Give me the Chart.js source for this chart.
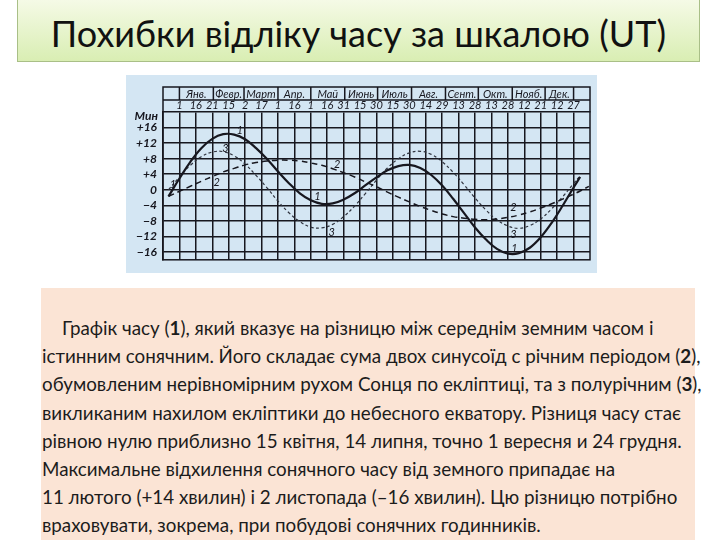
<!DOCTYPE html>
<html>
<head>
<meta charset="utf-8">
<script src="https://cdn.jsdelivr.net/npm/chart.js@4.4.0/dist/chart.umd.min.js"></script>
<style>
html, body { margin: 0; padding: 0; width: 720px; height: 540px; overflow: hidden; background: #fff; }
#title {
    position: absolute; left: 17px; top: -1px; width: 683px; height: 63px; box-sizing: border-box;
    border: 1px solid #a9bf87; background: linear-gradient(#f5fae6, #d9eeb3);
    font-family: Lato, "Open Sans", sans-serif; font-size: 36px;
    color: #111; text-align: center; line-height: 36px; padding-top: 15px;
}
#plot { position: absolute; left: 126px; top: 75px; width: 471px; height: 198px; background: #d4e6f3; }
#note {
    position: absolute; left: 41px; top: 288px; width: 654px; height: 252px; box-sizing: border-box;
    background: #fbe4d5; padding-top: 26px;
    font-family: Lato, "Open Sans", sans-serif; font-size: 18.8px;
    line-height: 28.2px; color: #1c1c1c;
}
.ln { white-space: nowrap; padding-left: 1px; }
.ln.first { padding-left: 21px; }
</style>
</head>
<body>
<div id="title">Похибки відліку часу за шкалою (UT)</div>
<canvas id="plot" width="471" height="198"></canvas>
<div id="note">
    <div class="ln first">Графік часу (<b>1</b>), який вказує на різницю між середнім земним часом і</div>
    <div class="ln">істинним сонячним. Його складає сума двох синусоїд с річним періодом (<b>2</b>),</div>
    <div class="ln">обумовленим нерівномірним рухом Сонця по екліптиці, та з полурічним (<b>3</b>),</div>
    <div class="ln">викликаним нахилом екліптики до небесного екватору. Різниця часу стає</div>
    <div class="ln">рівною нулю приблизно 15 квітня, 14 липня, точно 1 вересня и 24 грудня.</div>
    <div class="ln">Максимальне відхилення сонячного часу від земного припадає на</div>
    <div class="ln">11 лютого (+14 хвилин) і 2 листопада (–16 хвилин). Цю різницю потрібно</div>
    <div class="ln">враховувати, зокрема, при побудові сонячних годинників.</div>
</div>
<script>
// --------------- data -----------------------
const sampleDays = [-10, 0, 10, 20, 30, 40, 50, 60, 70, 80, 90, 100, 110, 120, 130, 140, 150, 160, 170, 180,
    190, 200, 210, 220, 230, 240, 250, 260, 270, 280, 290, 300, 310, 320, 330, 340, 350, 360, 366];
// curve 1: equation of time, minutes
const totalEq = [-1.7, 2.9, 7.2, 10.7, 13.1, 14.3, 14.2, 13.0, 10.7, 7.9, 4.7, 1.7, -0.9, -2.7, -3.6, -3.5,
    -2.5, -0.9, 1.2, 3.2, 5.0, 6.1, 6.4, 5.6, 3.8, 1.1, -2.3, -6.0, -9.7, -12.8, -15.2, -16.4, -16.3, -14.9,
    -12.2, -8.5, -4.1, 0.6, 3.3];
// curve 2: yearly term (runs on to the right edge)
const annualDays = [...sampleDays, 374];
const annualTerm = [-1.7, -0.4, 0.9, 2.2, 3.4, 4.6, 5.5, 6.4, 7.0, 7.4, 7.6, 7.6, 7.4, 6.9, 6.3, 5.4, 4.4, 3.3,
    2.0, 0.8, -0.6, -1.9, -3.1, -4.3, -5.3, -6.2, -6.9, -7.3, -7.6, -7.7, -7.5, -7.1, -6.5, -5.7, -4.7, -3.6,
    -2.4, -1.1, -0.3, 0.9];
// curve 3: half-year term
const semiAnnualTerm = [0.0, 3.3, 6.3, 8.5, 9.7, 9.8, 8.7, 6.6, 3.7, 0.5, -2.9, -5.9, -8.2, -9.6, -9.8, -8.9,
    -6.9, -4.2, -0.9, 2.5, 5.6, 8.0, 9.5, 9.9, 9.1, 7.2, 4.5, 1.3, -2.1, -5.2, -7.7, -9.3, -9.9, -9.2, -7.5,
    -4.9, -1.8, 1.6, 3.6];

const dayTicks = [0, 15, 30, 45, 60, 75, 90, 105, 120, 135, 150, 165, 180, 195, 210, 225, 240, 255, 270, 285,
    300, 315, 330, 345, 360];
const dayLabels = ['1', '16', '21', '15', '2', '17', '1', '16', '1', '16', '31', '15', '30', '15', '30', '14',
    '29', '13', '28', '13', '28', '12', '21', '12', '27'];
const monthNames = ['Янв.', 'Февр.', 'Март', 'Апр.', 'Май', 'Июнь', 'Июль', 'Авг.', 'Сент.', 'Окт.', 'Нояб.', 'Дек.'];
const monthEdges = [0, 31, 59, 90, 120, 151, 181, 212, 243, 273, 304, 334, 360];
const yTicks = [-16, -12, -8, -4, 0, 4, 8, 12, 16];
const yLabels = ['−16', '−12', '−8', '−4', '0', '+4', '+8', '+12', '+16'];
const curveLabels = [['1', 55, 15.3], ['3', 42, 10.6], ['2', 34, 2.0], ['2', 144, 6.4], ['1', 126, -1.6],
    ['3', 139, -10.9], ['2', 305, -4.6], ['3', 305, -11.4], ['1', 306, -15.0], ['1', -6, 1.3]];

const ink = '#17171f';
const handFont = 'Lato, "Open Sans", sans-serif';

const pts = (xs, ys) => xs.map((d, i) => ({x: d, y: ys[i]}));

// --------------- header, frame and curve numbers -----------------------
const frame = {
    id: 'frame',
    afterDraw(chart) {
        const {ctx, chartArea: a, scales: {x, y}} = chart;
        const top = a.top - 25, mid = a.top - 12;
        ctx.save();
        ctx.strokeStyle = ink;
        ctx.lineWidth = 1.5;
        ctx.strokeRect(a.left, top, a.right - a.left, a.bottom - top);
        ctx.beginPath();
        ctx.moveTo(a.left, mid); ctx.lineTo(a.right, mid);
        monthEdges.forEach(d => {
            const px = x.getPixelForValue(d);
            ctx.moveTo(px, top); ctx.lineTo(px, mid);
        });
        ctx.stroke();

        ctx.fillStyle = ink;
        ctx.font = 'italic 11px ' + handFont;
        ctx.textAlign = 'center';
        ctx.textBaseline = 'middle';
        monthNames.forEach((n, i) => {
            const cx = (x.getPixelForValue(monthEdges[i]) + x.getPixelForValue(monthEdges[i + 1])) / 2;
            ctx.fillText(n, cx, (top + mid) / 2 + 1);
        });

        ctx.font = 'italic bold 12px ' + handFont;
        ctx.textAlign = 'right';
        ctx.fillText('Мин', a.left - 5, y.getPixelForValue(19.0));

        ctx.font = 'italic 11px ' + handFont;
        ctx.textAlign = 'center';
        curveLabels.forEach(([t, d, v]) => ctx.fillText(t, x.getPixelForValue(d), y.getPixelForValue(v)));
        ctx.restore();
    }
};

new Chart(document.getElementById('plot'), {
    type: 'line',
    data: {
        datasets: [
            {data: pts(sampleDays, totalEq), borderColor: ink, borderWidth: 2.2},
            {data: pts(annualDays, annualTerm), borderColor: ink, borderWidth: 1.5, borderDash: [6, 4]},
            {data: pts(sampleDays, semiAnnualTerm), borderColor: '#30343f', borderWidth: 1.2, borderDash: [3, 2.5]}
        ]
    },
    options: {
        responsive: false,
        animation: false,
        devicePixelRatio: 1,
        layout: {padding: {left: 0, right: 7, top: 0, bottom: 6}},
        elements: {point: {radius: 0}, line: {tension: 0.4, fill: false}},
        plugins: {legend: {display: false}, tooltip: {enabled: false}},
        scales: {
            x: {
                type: 'linear', position: 'top', min: -15, max: 375,
                afterBuildTicks: s => { s.ticks = dayTicks.map(v => ({value: v})); },
                afterFit: s => { s.height = 37; },
                grid: {color: ink, lineWidth: 1.5, drawTicks: false},
                border: {color: ink, width: 1.5},
                ticks: {
                    autoSkip: false, maxRotation: 0, padding: 0, color: ink,
                    font: {family: handFont, size: 11, style: 'italic'},
                    callback: (v, i) => dayLabels[i]
                }
            },
            y: {
                type: 'linear', min: -18, max: 20,
                afterBuildTicks: s => { s.ticks = yTicks.map(v => ({value: v})); },
                afterFit: s => { s.width = 37; },
                grid: {color: ink, lineWidth: 1.5, drawTicks: false},
                border: {color: ink, width: 1.5},
                ticks: {
                    autoSkip: false, padding: 6, color: ink,
                    font: {family: handFont, size: 12, style: 'italic', weight: 'bold'},
                    callback: (v, i) => yLabels[i]
                }
            }
        }
    },
    plugins: [frame]
});
</script>
</body>
</html>
